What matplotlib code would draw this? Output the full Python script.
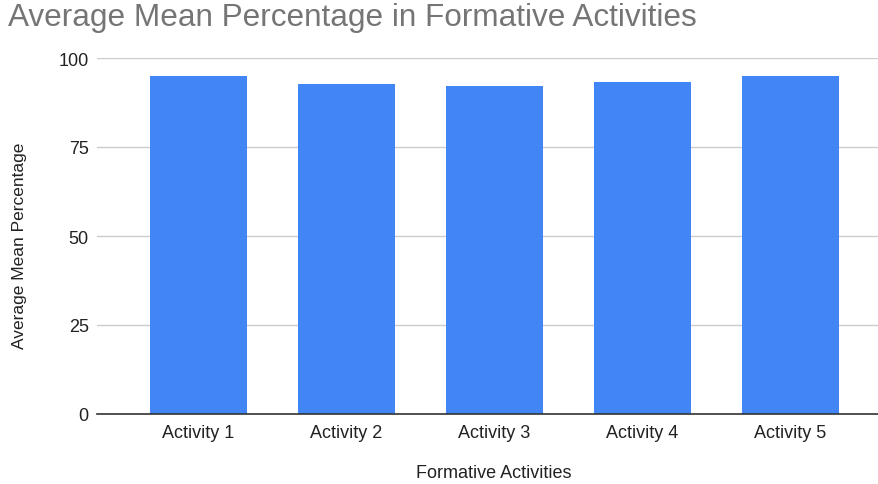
import matplotlib
matplotlib.use("Agg")
import matplotlib.pyplot as plt

categories = ["Activity 1", "Activity 2", "Activity 3", "Activity 4", "Activity 5"]
values = [94.9, 92.6, 92.0, 93.3, 94.9]
yticks = [0, 25, 50, 75, 100]

plt.rcParams['font.family'] = ['Liberation Sans', 'DejaVu Sans']

W, H = 879, 485
fig = plt.figure(figsize=(W / 100, H / 100), dpi=100)
ax = fig.add_axes([97 / W, (H - 415) / H, (878 - 97) / W, (415 - 59) / H])

x = list(range(len(categories)))
ax.bar(x, values, width=0.656, color="#4285F4", zorder=3)

ax.set_ylim(0, 100)
ax.set_xlim(-0.686, 4.594)
ax.set_yticks(yticks)
ax.set_yticklabels([str(v) for v in yticks])
ax.set_xticks(x)
ax.set_xticklabels(categories)

ax.grid(axis="y", color="#cccccc", linewidth=1, zorder=0)
for s in ["top", "right", "left"]:
    ax.spines[s].set_visible(False)
ax.spines["bottom"].set_color("#333333")
ax.spines["bottom"].set_linewidth(1.2)
ax.spines["bottom"].set_zorder(4)
ax.tick_params(axis="both", length=0, labelsize=13, labelcolor="#222222")
ax.tick_params(axis="y", pad=6)
ax.tick_params(axis="x", pad=7)

fig.text(8 / W, 1 - 3 / H, "Average Mean Percentage in Formative Activities",
         ha="left", va="top", fontsize=22.7, color="#757575")
fig.text(494 / W, 1 - 474 / H, "Formative Activities", ha="center", va="center",
         fontsize=13, color="#222222")
fig.text(20 / W, 1 - 246 / H, "Average Mean Percentage", ha="center", va="center",
         rotation=90, fontsize=12.5, color="#222222")

fig.savefig("out.png", dpi=100)
